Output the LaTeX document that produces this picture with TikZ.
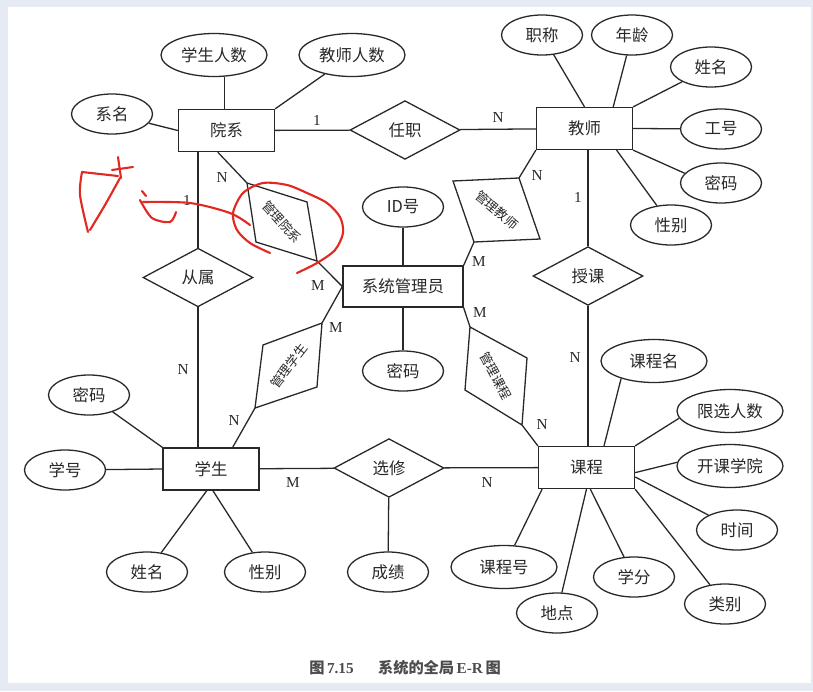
\documentclass[tikz,border=0pt]{standalone}
\usepackage{fontspec}
\setmainfont{Liberation Serif}
\newfontfamily\zhfont{Noto Sans CJK SC}
\usetikzlibrary{shapes.geometric}

\definecolor{framebg}{RGB}{230,234,242}
\definecolor{ink}{RGB}{40,40,40}
\definecolor{pen}{RGB}{226,40,32}

\begin{document}
\begin{tikzpicture}[x=0.03cm, y=-0.03cm, color=ink, line width=1.1pt,
  entity/.style={draw, rectangle, minimum width=2.88cm, minimum height=1.26cm, inner sep=0pt, font=\zhfont\fontsize{14}{16}\selectfont},
  attr/.style={draw, ellipse, minimum width=2.43cm, minimum height=1.2cm, inner sep=0pt, font=\zhfont\fontsize{14}{16}\selectfont},
  wide/.style={minimum width=3.18cm, minimum height=1.29cm},
  rel/.style={draw, diamond, minimum width=3.3cm, minimum height=1.76cm, inner sep=0pt, font=\zhfont\fontsize{14}{16}\selectfont},
  card/.style={font=\fontsize{13}{15}\selectfont, inner sep=1pt},
  slanted/.style={font=\zhfont\fontsize{11}{13}\selectfont, inner sep=0pt},
  scrawl/.style={draw=pen, line width=1.8pt, line cap=round, line join=round}]
\useasboundingbox (0,0) rectangle (813,691);
\fill[framebg] (0,0) rectangle (813,691);
\fill[white] (8,7) rectangle (811,683);

% entities
\node[entity] (yx) at (226.5,130.5) {院系};
\node[entity] (js) at (584.5,128.5) {教师};
\node[entity, minimum width=3.6cm, minimum height=1.23cm] (gly) at (403,286.5) {系统管理员};
\node[entity] (xs) at (211,469) {学生};
\node[entity] (kc) at (586.5,467.5) {课程};

% relationships
\node[rel] (rz) at (405,130) {任职};
\node[rel] (cs) at (198,277.5) {从属};
\node[rel] (sk) at (588,276) {授课};
\node[rel] (xx) at (389,468) {选修};

% attributes
\node[attr, wide] (xsrs) at (214,55) {学生人数};
\node[attr, wide] (jsrs) at (352,55) {教师人数};
\node[attr] (xm) at (112,114) {系名};
\node[attr] (zc) at (542,35) {职称};
\node[attr] (nl) at (632,35) {年龄};
\node[attr] (jxm) at (711,67) {姓名};
\node[attr] (gh) at (721,129) {工号};
\node[attr] (jmm) at (721,183) {密码};
\node[attr] (jxb) at (671,225) {性别};
\node[attr] (idh) at (403,207) {ID{\zhfont 号}};
\node[attr] (gmm) at (403,371) {密码};
\node[attr] (smm) at (89,395) {密码};
\node[attr] (xh) at (65,470) {学号};
\node[attr] (sxm) at (147,572) {姓名};
\node[attr] (sxb) at (265,572) {性别};
\node[attr] (cj) at (388,572) {成绩};
\node[attr, wide] (kcm) at (654,361) {课程名};
\node[attr, wide] (xxrs) at (730,411) {限选人数};
\node[attr, wide] (kkxy) at (730,466) {开课学院};
\node[attr] (sj) at (737,530) {时间};
\node[attr] (lb) at (725,604) {类别};
\node[attr, wide] (kch) at (504,567) {课程号};
\node[attr] (dd) at (557,613) {地点};
\node[attr] (xf) at (634,577) {学分};

% slanted boxes for the admin links
\coordinate (gyx1) at (247,183); \coordinate (gyx2) at (307,202);
\coordinate (gyx3) at (317,261); \coordinate (gyx4) at (256,242);
\draw (gyx1) -- (gyx2) -- (gyx3) -- (gyx4) -- cycle;
\node[slanted, rotate=-48] (gyx) at (282,222) {管理院系};

\coordinate (gjs1) at (453,181); \coordinate (gjs2) at (519,178);
\coordinate (gjs3) at (540,239); \coordinate (gjs4) at (474,242);
\draw (gjs1) -- (gjs2) -- (gjs3) -- (gjs4) -- cycle;
\node[slanted, rotate=-40] (gjs) at (497,210) {管理教师};

\coordinate (gxs1) at (263,345); \coordinate (gxs2) at (322,323);
\coordinate (gxs3) at (317,387); \coordinate (gxs4) at (255,408);
\draw (gxs1) -- (gxs2) -- (gxs3) -- (gxs4) -- cycle;
\node[slanted, rotate=52] (gxs) at (289,366) {管理学生};

\coordinate (gkc1) at (470,327); \coordinate (gkc2) at (527,358);
\coordinate (gkc3) at (522,425); \coordinate (gkc4) at (465,390);
\draw (gkc1) -- (gkc2) -- (gkc3) -- (gkc4) -- cycle;
\node[slanted, rotate=-62] (gkc) at (496,376) {管理课程};

% attribute lines
\draw (xsrs.-64) -- (xsrs.-64 |- yx.north);
\draw (jsrs) -- (yx.north east);
\draw (xm) -- (yx.west);
\draw (zc) -- (js.north);
\draw (nl) -- (js.37);
\draw (jxm) -- (js.north east);
\draw (gh) -- (js.east);
\draw (jmm.165) -- (js.south east);
\draw (jxb) -- (js.-34);
\draw (idh) -- (gly);
\draw (gly) -- (gmm);
\draw (smm) -- (xs.north west);
\draw (xh) -- (xs.west);
\draw (sxm) -- (xs.-101);
\draw (sxb) -- (xs.-85);
\draw (xx) -- (cj);
\draw (kcm.-152) -- (kc.51);
\draw (xxrs.188) -- (kc.north east);
\draw (kkxy.176) -- (kc.-6);
\draw (sj) -- (kc.-11);
\draw (lb) -- (kc.south east);
\draw (kch) -- (kc.-154);
\draw (dd) -- (kc.south);
\draw (xf) -- (kc.-80);

% relationship lines
\draw (yx) -- (rz);
\draw (rz) -- (js);
\draw (yx.south -| cs.north) -- (cs.north);
\draw (cs.south) -- (cs.south |- xs.north);
\draw (js.south -| sk.north) -- (sk.north);
\draw (sk.south) -- (sk.south |- kc.north);
\draw (xs) -- (xx);
\draw (xx) -- (kc);
\draw (yx.-112) -- (gyx1);
\draw (gyx3) -- (gly.west);
\draw (gly.west) -- (gxs2);
\draw (gxs4) -- (xs.45);
\draw (js.south west) -- (gjs2);
\draw (gjs4) -- (gly.north east);
\draw (gly.south east) -- (gkc1);
\draw (gkc3) -- (kc.north west);

% cardinalities
\node[card] (c1) at (317,120) {1};
\node[card] (c2) at (498,118) {N};
\node[card] (c3) at (187,200) {1};
\node[card] (c4) at (222,178) {N};
\node[card] (c5) at (318,286) {M};
\node[card] (c6) at (336,328) {M};
\node[card] (c7) at (234,421) {N};
\node[card] (c8) at (183,370) {N};
\node[card] (c9) at (293,483) {M};
\node[card] (c10) at (487,483) {N};
\node[card] (c11) at (575,358) {N};
\node[card] (c12) at (578,197) {1};
\node[card] (c13) at (537,176) {N};
\node[card] (c14) at (479,262) {M};
\node[card] (c15) at (480,313) {M};
\node[card] (c16) at (542,425) {N};

% red marks written over the page
\draw[scrawl] plot[smooth] coordinates {(297,273) (317,263) (335,250) (343,233) (340,217) (327,203) (307,193) (287,185) (263,183) (243,193) (233,213) (237,230) (250,243) (270,253)};
\draw[scrawl] plot[smooth] coordinates {(82,172) (80,195) (88,232)};
\draw[scrawl] (82,172) -- (118,176);
\draw[scrawl] plot[smooth] coordinates {(120,178) (105,205) (90,230)};
\draw[scrawl] (118,157) -- (121,178);
\draw[scrawl] (112,170) -- (133,167);
\draw[scrawl] (142,191) -- (146,196);
\draw[scrawl] plot[smooth] coordinates {(140,200) (152,218) (170,222) (176,212)};
\draw[scrawl] plot[smooth] coordinates {(143,202) (190,203) (230,213) (250,225)};

\node[font=\fontsize{13}{15}\selectfont\bfseries, text=black!70] (caption) at (405,668)
  {{\zhfont 图}\,7.15\hspace{1.6em}{\zhfont 系统的全局}\,E-R\,{\zhfont 图}};
\end{tikzpicture}
\end{document}
